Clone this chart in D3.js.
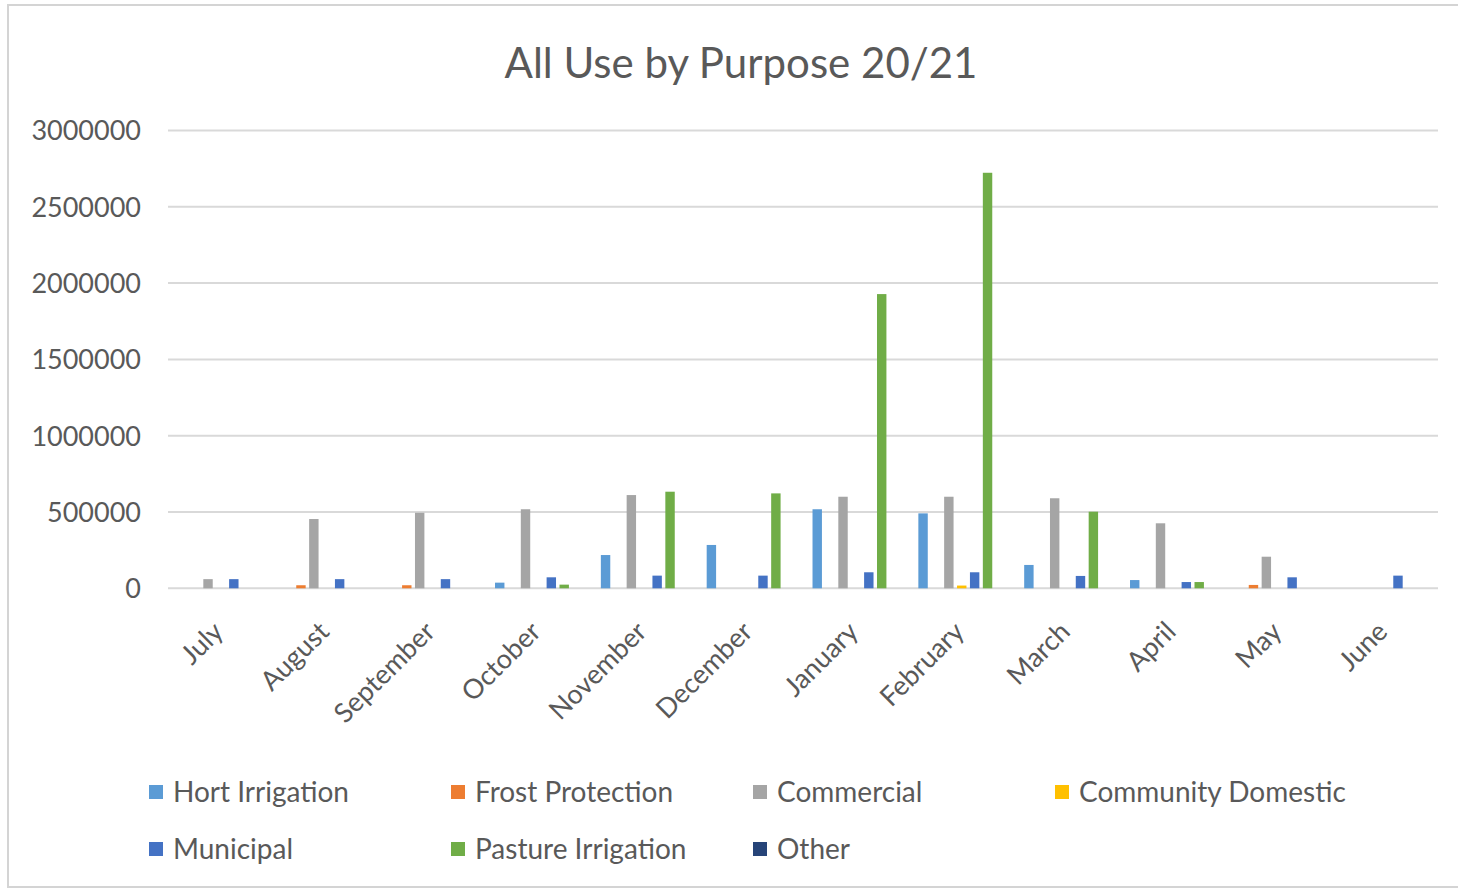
<!DOCTYPE html>
<html>
<head>
<meta charset="utf-8">
<script src="https://cdn.jsdelivr.net/npm/d3@7"></script>
<style>
  html, body { margin: 0; padding: 0; background: #fff; }
  svg { display: block; }
  text { font-family: Lato, "Open Sans", sans-serif; }
</style>
</head>
<body>
<svg id="chart" width="1458" height="890"></svg>
<script>
// Monthly water use by purpose, 2020/21
const months = ["July", "August", "September", "October", "November", "December",
                "January", "February", "March", "April", "May", "June"];

const hortIrrigation      = [0, 0, 0, 37000, 218000, 284000, 518000, 491000, 153000, 54000, 0, 0];
const frostProtection     = [0, 20000, 20000, 0, 0, 0, 0, 0, 0, 0, 22000, 0];
const commercial          = [60000, 454000, 495000, 518000, 611000, 0, 600000, 600000, 590000, 426000, 207000, 0];
const communityDomestic   = [0, 0, 0, 0, 0, 0, 0, 18000, 0, 0, 0, 0];
const municipal           = [60000, 60000, 60000, 72000, 83000, 83000, 105000, 105000, 81000, 41000, 72000, 83000];
const pastureIrrigation   = [0, 0, 0, 24000, 633000, 622000, 1928000, 2723000, 502000, 41000, 0, 0];
const other               = [0, 0, 0, 0, 0, 0, 0, 0, 0, 0, 0, 0];

const seriesNames = ["Hort Irrigation", "Frost Protection", "Commercial", "Community Domestic",
                     "Municipal", "Pasture Irrigation", "Other"];
const seriesColors = ["#5B9BD5", "#ED7D31", "#A5A5A5", "#FFC000", "#4472C4", "#70AD47", "#264478"];
const yTicks = [0, 500000, 1000000, 1500000, 2000000, 2500000, 3000000];

const seriesValues = [hortIrrigation, frostProtection, commercial, communityDomestic,
                      municipal, pastureIrrigation, other];

const svg = d3.select("#chart");

// chart frame
svg.append("rect")
  .attr("x", 8).attr("y", 5)
  .attr("width", 1470).attr("height", 882)
  .attr("fill", "#fff")
  .attr("stroke", "#d4d4d4").attr("stroke-width", 2);

// title
svg.append("text")
  .attr("x", 741).attr("y", 78)
  .attr("text-anchor", "middle")
  .attr("font-size", 42)
  .attr("fill", "#595959")
  .text("All Use by Purpose 20/21");

const plot = { left: 168, right: 1438, top: 130.5, bottom: 588.3 };

const x0 = d3.scaleBand().domain(months).range([plot.left, plot.right]).paddingInner(0).paddingOuter(0);
const x1 = d3.scaleBand().domain(seriesNames)
  .range([0, 12.4 * 7])
  .paddingInner(0.27).paddingOuter(0);
const groupOffset = (x0.bandwidth() - 12.4 * 7) / 2;

const y = d3.scaleLinear().domain([0, 3000000]).range([plot.bottom, plot.top]);

// gridlines
svg.append("g")
  .selectAll("line")
  .data(yTicks)
  .join("line")
  .attr("x1", plot.left).attr("x2", plot.right)
  .attr("y1", d => y(d)).attr("y2", d => y(d))
  .attr("stroke", "#d9d9d9").attr("stroke-width", 2);

// y axis labels
const yAxis = d3.axisLeft(y).tickValues(yTicks).tickSize(0).tickPadding(0).tickFormat(d3.format("d"));
const yg = svg.append("g").attr("transform", `translate(141,0)`).call(yAxis);
yg.select(".domain").remove();
yg.selectAll("text")
  .attr("font-size", 27)
  .attr("font-family", "Lato, 'Open Sans', sans-serif")
  .attr("fill", "#595959")
  .attr("dy", "0.35em");

// bars
const groups = svg.append("g")
  .selectAll("g")
  .data(months)
  .join("g")
  .attr("transform", d => `translate(${x0(d) + groupOffset},0)`);

groups.selectAll("rect")
  .data((m, i) => seriesNames.map((s, k) => ({ s, k, v: seriesValues[k][i] })))
  .join("rect")
  .attr("x", d => x1(d.s))
  .attr("width", x1.bandwidth())
  .attr("y", d => y(d.v))
  .attr("height", d => y(0) - y(d.v))
  .attr("fill", d => seriesColors[d.k]);

// x axis labels (rotated)
const xAxis = d3.axisBottom(x0).tickSize(0).tickPadding(0);
const xg = svg.append("g").attr("transform", `translate(0,${plot.bottom})`).call(xAxis);
xg.select(".domain").remove();
xg.selectAll("text")
  .attr("font-size", 27)
  .attr("font-family", "Lato, 'Open Sans', sans-serif")
  .attr("fill", "#595959")
  .attr("text-anchor", "end")
  .attr("dy", null)
  .attr("y", 0)
  .attr("transform", "translate(4,45) rotate(-45)");

// legend
const legendPos = [
  { x: 149, y: 792 }, { x: 451, y: 792 }, { x: 753, y: 792 }, { x: 1055, y: 792 },
  { x: 149, y: 849 }, { x: 451, y: 849 }, { x: 753, y: 849 }
];
const legend = svg.append("g")
  .selectAll("g")
  .data(seriesNames)
  .join("g")
  .attr("transform", (d, i) => `translate(${legendPos[i].x},${legendPos[i].y})`);
legend.append("rect")
  .attr("x", 0).attr("y", -7)
  .attr("width", 14).attr("height", 14)
  .attr("fill", (d, i) => seriesColors[i]);
legend.append("text")
  .attr("x", 24).attr("y", 0)
  .attr("dy", "0.35em")
  .attr("font-size", 28)
  .attr("fill", "#595959")
  .text(d => d);
</script>
</body>
</html>
